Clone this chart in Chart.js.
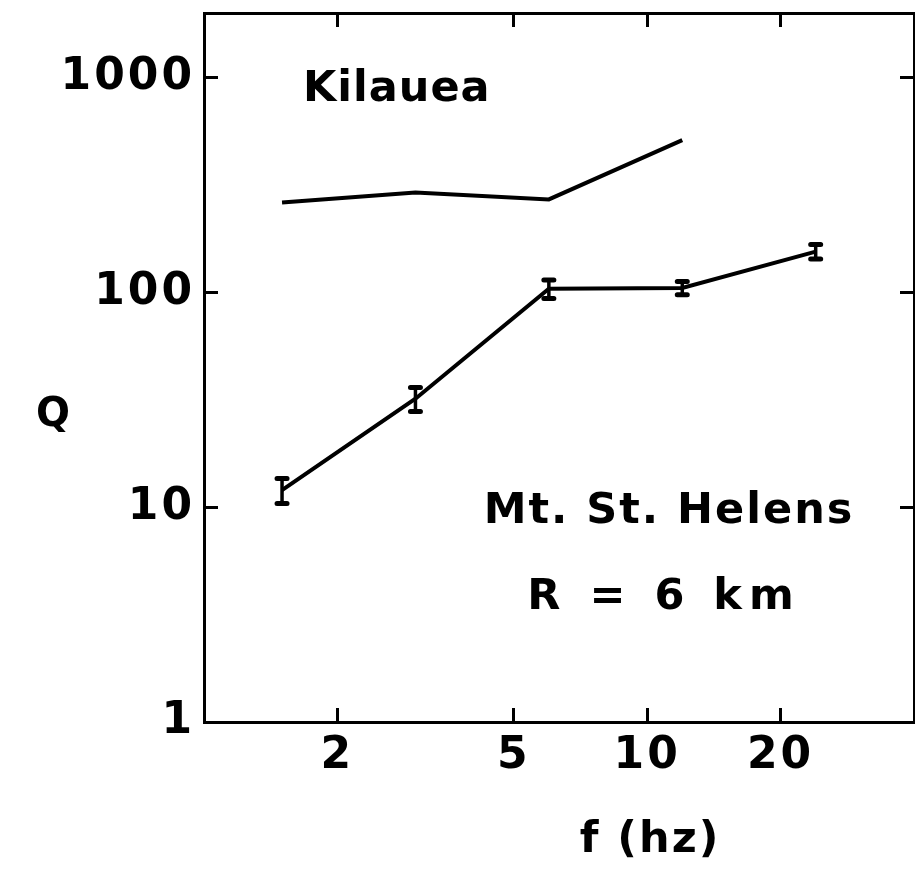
<!DOCTYPE html>
<html>
<head>
<meta charset="utf-8">
<script src="https://cdn.jsdelivr.net/npm/chart.js@4/dist/chart.umd.min.js"></script>
<style>
  html, body { margin: 0; padding: 0; background: #fff; }
  canvas { display: block; }
</style>
</head>
<body>
<canvas id="qChart" width="915" height="881"></canvas>
<script>
// frequency (hz) and Q values
const freqs = [1.5, 3, 6, 12, 24];
const kilaueaQ = [262, 292, 271, 512];
const helensQ = [12, 32, 104, 105, 155];
const helensErr = [1.6, 4.1, 10.4, 7.5, 12];
const xTicks = [2, 5, 10, 20];
const yTicks = [1, 10, 100, 1000];

const FONT = 'DejaVu Sans';
const INK = '#000';

function tickList(values) {
  return scale => { scale.ticks = values.map(v => ({ value: v })); };
}

// fixed box sizes, no extra room for overhanging labels
function fixSize(dim, size) {
  return s => {
    s[dim] = size;
    s.paddingTop = s.paddingBottom = s.paddingLeft = s.paddingRight = 0;
  };
}

// error bars on the Mt. St. Helens series
const errorBars = {
  id: 'errorBars',
  afterDatasetsDraw(chart) {
    const { ctx, scales: { x, y } } = chart;
    ctx.save();
    ctx.strokeStyle = INK;
    helensQ.forEach((q, i) => {
      const px = x.getPixelForValue(freqs[i]);
      const top = y.getPixelForValue(q + helensErr[i]);
      const bot = y.getPixelForValue(q - helensErr[i]);
      ctx.lineWidth = 3.5;
      ctx.beginPath();
      ctx.moveTo(px, top);
      ctx.lineTo(px, bot);
      ctx.stroke();
      ctx.lineWidth = 5;
      ctx.lineCap = 'round';
      ctx.beginPath();
      ctx.moveTo(px - 5, top); ctx.lineTo(px + 5, top);
      ctx.moveTo(px - 5, bot); ctx.lineTo(px + 5, bot);
      ctx.stroke();
    });
    ctx.restore();
  }
};

// wide spacing for the tick lettering
const spacing = {
  id: 'spacing',
  beforeDraw(chart) { chart.ctx.letterSpacing = '3px'; }
};

// panel labels and axis names
const labels = {
  id: 'labels',
  afterDraw(chart) {
    const { ctx, chartArea: a } = chart;
    const put = (text, x, cy, size, align, gap) => {
      ctx.font = 'bold ' + size + 'px "' + FONT + '"';
      ctx.letterSpacing = gap + 'px';
      ctx.textAlign = align;
      ctx.textBaseline = 'alphabetic';
      ctx.fillStyle = INK;
      ctx.fillText(text, x, cy + size * 0.365);
    };
    ctx.save();
    put('Kilauea', a.left + 99, 85, 43, 'left', 1);
    put('Mt. St. Helens', a.left + 465, 507, 43, 'center', 2);
    put('R = 6 km', a.left + 460, 593, 43, 'center', 7);
    put('Q', 53, 411, 40, 'center', 0);
    put('f (hz)', a.left + 446, 836, 43, 'center', 2);
    ctx.restore();
  }
};

const tickFont = { family: FONT, size: 44, weight: 'bold' };
const edge = { display: true, color: INK, width: 3 };
const inward = { drawOnChartArea: false, tickLength: -14, tickWidth: 3, tickColor: INK };

const config = {
  type: 'line',
  data: {
    datasets: [
      {
        label: 'Kilauea',
        data: kilaueaQ.map((q, i) => ({ x: freqs[i], y: q })),
        borderColor: INK,
        borderWidth: 4,
        pointRadius: 0,
        tension: 0
      },
      {
        label: 'Mt. St. Helens',
        data: helensQ.map((q, i) => ({ x: freqs[i], y: q })),
        borderColor: INK,
        borderWidth: 4,
        pointRadius: 0,
        tension: 0
      }
    ]
  },
  options: {
    responsive: false,
    animation: false,
    layout: { padding: { top: 13, right: 1, left: 0, bottom: 0 } },
    plugins: { legend: { display: false }, tooltip: { enabled: false } },
    scales: {
      x: {
        type: 'logarithmic', position: 'bottom', min: 1, max: 40,
        afterBuildTicks: tickList(xTicks),
        afterFit: fixSize('height', 159),
        border: edge,
        grid: inward,
        ticks: { color: INK, font: tickFont, padding: 22, autoSkip: false, maxRotation: 0,
                 callback: v => String(v) }
      },
      xTop: {
        type: 'logarithmic', position: 'top', min: 1, max: 40,
        afterBuildTicks: tickList(xTicks),
        afterFit: fixSize('height', 0),
        border: edge,
        grid: inward,
        ticks: { display: false }
      },
      y: {
        type: 'logarithmic', position: 'left', min: 1, max: 2000,
        afterBuildTicks: tickList(yTicks),
        afterFit: fixSize('width', 204),
        border: edge,
        grid: inward,
        ticks: { color: INK, font: tickFont, padding: 23, autoSkip: false,
                 callback: v => String(v) }
      },
      yRight: {
        type: 'logarithmic', position: 'right', min: 1, max: 2000,
        afterBuildTicks: tickList(yTicks),
        afterFit: fixSize('width', 0),
        border: edge,
        grid: inward,
        ticks: { display: false }
      }
    }
  },
  plugins: [spacing, errorBars, labels]
};

const qChart = new Chart(document.getElementById('qChart'), config);
</script>
</body>
</html>
